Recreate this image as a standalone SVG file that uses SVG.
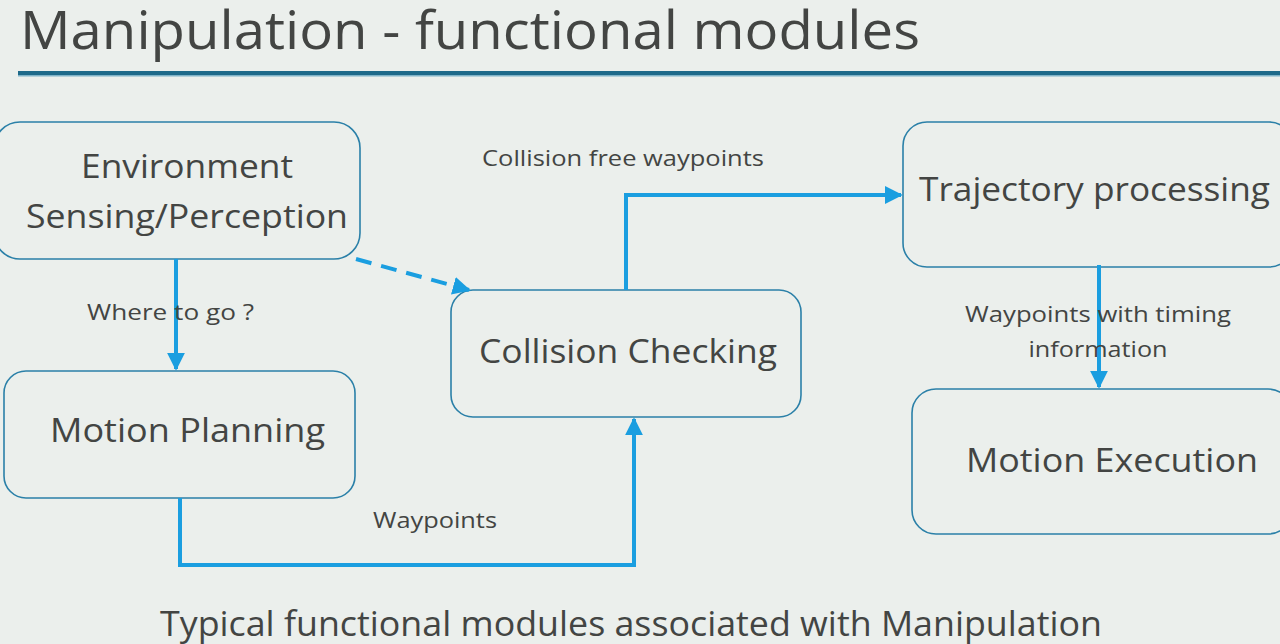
<svg xmlns="http://www.w3.org/2000/svg" width="1280" height="644" viewBox="0 0 1280 644">
<defs>
<style>
.bg{fill:#ebefec}
.node{fill:#ebefec;stroke:#2b80a8;stroke-width:1.6}
.t{font-family:"Open Sans","Liberation Sans",sans-serif;fill:#434543}
.big{font-size:33px}
.lbl{font-size:22px}
.conn{fill:none;stroke:#1a9ee0;stroke-width:4}
</style>
<marker id="ah" viewBox="0 0 10 10" refX="9" refY="5" markerWidth="4.5" markerHeight="4.5" markerUnits="strokeWidth" orient="auto">
<path d="M0,0 L10,5 L0,10 z" fill="#1a9ee0"/>
</marker>
</defs>
<rect class="bg" x="0" y="0" width="1280" height="644"/>
<text class="t" x="20" y="49" font-size="53" textLength="900" lengthAdjust="spacingAndGlyphs">Manipulation - functional modules</text>
<rect x="18" y="71" width="1262" height="4" fill="#1e6a8a"/>
<rect x="18" y="75" width="1262" height="1.5" fill="#7fb3c8"/>

<g id="env">
<rect class="node" x="-6" y="122" width="366" height="137" rx="26"/>
<text class="t big" x="187" y="178" text-anchor="middle" textLength="212" lengthAdjust="spacingAndGlyphs">Environment</text>
<text class="t big" x="187" y="228" text-anchor="middle" textLength="322" lengthAdjust="spacingAndGlyphs">Sensing/Perception</text>
</g>
<g id="mp">
<rect class="node" x="4" y="371" width="351" height="127" rx="22"/>
<text class="t big" x="50" y="442" textLength="275" lengthAdjust="spacingAndGlyphs">Motion Planning</text>
</g>
<g id="cc">
<rect class="node" x="451" y="290" width="350" height="127" rx="22"/>
<text class="t big" x="479" y="363" textLength="298" lengthAdjust="spacingAndGlyphs">Collision Checking</text>
</g>
<g id="tp">
<rect class="node" x="903" y="122" width="390" height="145" rx="24"/>
<text class="t big" x="919" y="201" textLength="351" lengthAdjust="spacingAndGlyphs">Trajectory processing</text>
</g>
<g id="me">
<rect class="node" x="912" y="389" width="380" height="145" rx="24"/>
<text class="t big" x="966" y="472" textLength="292" lengthAdjust="spacingAndGlyphs">Motion Execution</text>
</g>

<g id="connectors">
<path class="conn" d="M176,259 L176,369" marker-end="url(#ah)"/>
<path class="conn" d="M356,259 L469,290" stroke-dasharray="16,10" marker-end="url(#ah)"/>
<path class="conn" d="M180,498 L180,565 L634,565 L634,419" marker-end="url(#ah)"/>
<path class="conn" d="M626,290 L626,195 L901,195" marker-end="url(#ah)"/>
<path class="conn" d="M1099,265 L1099,387" marker-end="url(#ah)"/>
</g>

<g id="labels">
<text class="t lbl" x="87" y="320" textLength="167" lengthAdjust="spacingAndGlyphs">Where to go ?</text>
<text class="t lbl" x="482" y="166" textLength="282" lengthAdjust="spacingAndGlyphs">Collision free waypoints</text>
<text class="t lbl" x="965" y="322" textLength="266" lengthAdjust="spacingAndGlyphs">Waypoints with timing</text>
<text class="t lbl" x="1098" y="357" text-anchor="middle" textLength="139" lengthAdjust="spacingAndGlyphs">information</text>
<text class="t lbl" x="373" y="528" textLength="124" lengthAdjust="spacingAndGlyphs">Waypoints</text>
</g>
<text class="t" x="160" y="636" font-size="34" textLength="942" lengthAdjust="spacingAndGlyphs">Typical functional modules associated with Manipulation</text>
</svg>
